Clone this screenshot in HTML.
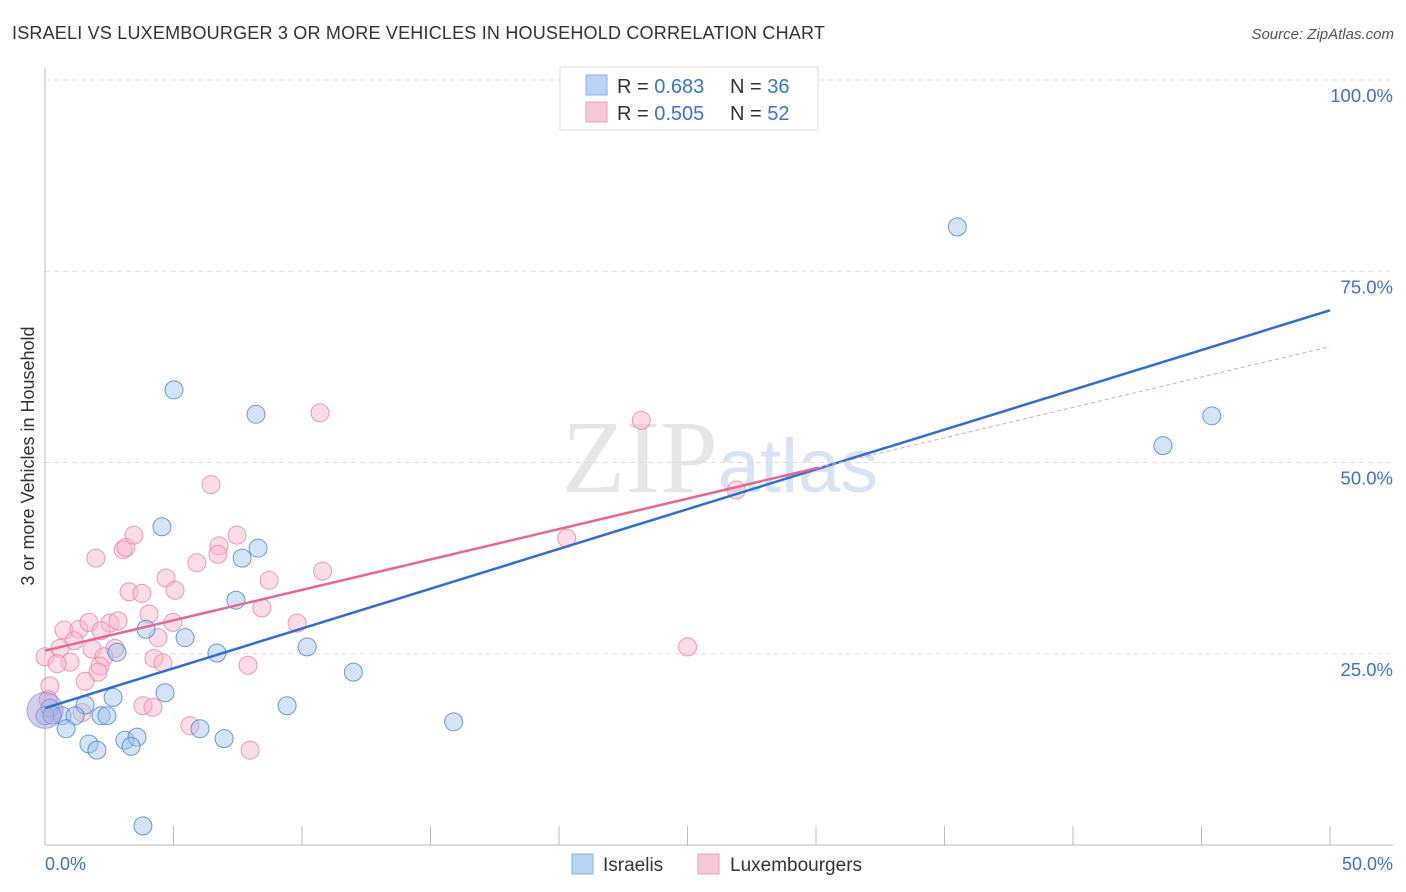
<!DOCTYPE html>
<html><head><meta charset="utf-8"><style>
body{margin:0;background:#fff;font-family:"Liberation Sans",sans-serif}
svg{display:block}
</style></head><body>
<svg id="chart" width="1406" height="892" xmlns="http://www.w3.org/2000/svg">
<text x="12" y="39" font-size="18" fill="#333" letter-spacing="0.2">ISRAELI VS LUXEMBOURGER 3 OR MORE VEHICLES IN HOUSEHOLD CORRELATION CHART</text>
<text x="1394" y="39" font-size="15" fill="#555" font-style="italic" text-anchor="end">Source: ZipAtlas.com</text>
<text x="720" y="492" font-size="104" text-anchor="middle" fill="#e6e6e6" font-family="Liberation Serif,serif">ZIP<tspan fill="#d8e4f4" font-family="Liberation Sans,sans-serif" font-size="76">atlas</tspan></text>
<g id="grid"></g>
<g id="marks"></g>
<text transform="translate(34,456) rotate(-90)" font-size="18" fill="#333" text-anchor="middle">3 or more Vehicles in Household</text>
<g>
<rect x="560" y="67" width="258" height="63" fill="#fff" stroke="#ddd"/>
<rect x="586" y="75" width="21" height="20" fill="#b9d3f5" stroke="#8ab0e6"/>
<rect x="586" y="102" width="21" height="20" fill="#f9c8d7" stroke="#ee9db5"/>
<text x="617" y="93" font-size="20" fill="#333">R = <tspan fill="#3b73d0"> 0.683</tspan></text>
<text x="730" y="93" font-size="20" fill="#333">N = <tspan fill="#3b73d0">36</tspan></text>
<text x="617" y="120" font-size="20" fill="#333">R = <tspan fill="#3b73d0">0.505</tspan></text>
<text x="730" y="120" font-size="20" fill="#333">N = <tspan fill="#3b73d0">52</tspan></text>
</g>
<g>
<rect x="572" y="854" width="21" height="20" fill="#b9d3f5" stroke="#8ab0e6"/>
<text x="603" y="871" font-size="19" fill="#333">Israelis</text>
<rect x="698" y="854" width="21" height="20" fill="#f9c8d7" stroke="#ee9db5"/>
<text x="730" y="871" font-size="19" fill="#333">Luxembourgers</text>
</g>
</svg>
<script>
const blueX=[5.02,8.21,35.5,43.5,45.4,4.55,8.29,7.67,7.43,3.93,5.45,2.80,6.69,10.2,12.0,4.67,2.65,1.56,0.19,0,0.66,1.17,2.18,2.41,0.82,6.03,9.42,15.9,1.71,2.02,3.11,3.58,3.35,6.97,3.81,0.27];
const blueY=[59.5,56.3,80.8,52.2,56.1,41.6,38.8,37.5,32.0,28.2,27.1,25.2,25.1,25.9,22.6,19.9,19.3,18.3,17.9,16.9,16.9,16.9,16.9,16.9,15.2,15.2,18.2,16.1,13.2,12.4,13.7,14.1,12.9,13.9,2.5,17.0];
const pinkX=[10.7,23.2,6.46,26.9,20.3,3.04,3.15,3.46,1.98,7.47,6.77,6.73,5.91,4.71,5.06,3.27,3.77,8.72,10.8,4.05,4.98,8.44,9.81,0.74,1.32,1.71,2.53,2.84,2.18,4.40,1.13,0.58,1.83,2.72,2.30,0,4.24,4.59,7.90,0.97,0.47,2.14,2.06,1.56,0.19,25.0,3.81,4.20,5.64,7.98,1.44,0.12];
const pinkY=[56.5,55.5,47.1,46.4,40.1,38.6,38.9,40.5,37.5,40.5,39.1,38.0,36.9,34.9,33.3,33.1,32.9,34.6,35.8,30.2,29.1,31.0,29.0,28.1,28.2,29.1,29.0,29.3,28.0,27.1,26.7,25.7,25.6,25.7,24.6,24.6,24.4,23.8,23.5,23.9,23.7,23.4,22.6,21.4,20.8,25.9,18.2,18.0,15.6,12.4,17.3,19.0];
const yTicks=[25,50,75,100];
const yTickLabels=["25.0%","50.0%","75.0%","100.0%"];
const xTicks=[0,5,10,15,20,25,30,35,40,45,50];
const blueTrend=[17.9,1.04];
const pinkTrend=[25.4,0.795];
const pinkSolidEnd=30.1;

const NS='http://www.w3.org/2000/svg';
const sx=v=>45+v*1285/50;
const sy=v=>845-v*7.65;
function mk(tag,attrs,parent){const e=document.createElementNS(NS,tag);for(const k in attrs)e.setAttribute(k,attrs[k]);parent.appendChild(e);return e;}
const grid=document.getElementById('grid'),marks=document.getElementById('marks');
yTicks.forEach((t,i)=>{
 const l=mk('line',{x1:45,x2:1393,y1:sy(t),y2:sy(t),stroke:'#ddd','stroke-dasharray':'5,4'},grid);
 
 
 const tx=mk('text',{x:1393,y:sy(t)+22,'font-size':18.5,fill:'#3b73d0','text-anchor':'end'},grid);
 tx.textContent=yTickLabels[i];
 
 
});
const ax=mk('line',{x1:45,x2:1393,y1:845,y2:845,stroke:'#bbb'},grid);


const ay=mk('line',{x1:45,x2:45,y1:68,y2:845,stroke:'#bbb'},grid);


xTicks.forEach(t=>{
 const l=mk('line',{x1:sx(t),x2:sx(t),y1:826,y2:845,stroke:'#bbb'},grid);
 
 
});
const xl0=mk('text',{x:45,y:870,'font-size':18,fill:'#3b73d0'},grid);xl0.textContent='0.0%';


const xl1=mk('text',{x:1393,y:870,'font-size':18,fill:'#3b73d0','text-anchor':'end'},grid);xl1.textContent='50.0%';



pinkX.forEach((x,i)=>{
 const c=mk('circle',{cx:sx(x),cy:sy(pinkY[i]),r:9,fill:'rgba(248,180,200,0.45)',stroke:'rgba(232,130,160,0.8)','stroke-width':1},marks);
 
 
});
blueX.forEach((x,i)=>{
 const c=mk('circle',{cx:sx(x),cy:sy(blueY[i]),r:9,fill:'rgba(160,196,240,0.45)',stroke:'rgba(70,130,210,0.8)','stroke-width':1},marks);
 
 
});
const big=mk('circle',{cx:sx(0),cy:sy(17.6),r:18,fill:'rgba(170,160,220,0.5)',stroke:'rgba(120,130,210,0.6)'},marks);


const bl=mk('line',{x1:sx(0),y1:sy(blueTrend[0]),x2:sx(50),y2:sy(blueTrend[0]+50*blueTrend[1]),stroke:'#2e6fd6','stroke-width':2.5},marks);


const pl=mk('line',{x1:sx(0),y1:sy(pinkTrend[0]),x2:sx(pinkSolidEnd),y2:sy(pinkTrend[0]+pinkSolidEnd*pinkTrend[1]),stroke:'#e8668f','stroke-width':2.5},marks);


const pd=mk('line',{x1:sx(pinkSolidEnd),y1:sy(pinkTrend[0]+pinkSolidEnd*pinkTrend[1]),x2:sx(50),y2:sy(pinkTrend[0]+50*pinkTrend[1]),stroke:'#e8a0b5','stroke-width':1,'stroke-dasharray':'4,3'},marks);


</script>
</body></html>
